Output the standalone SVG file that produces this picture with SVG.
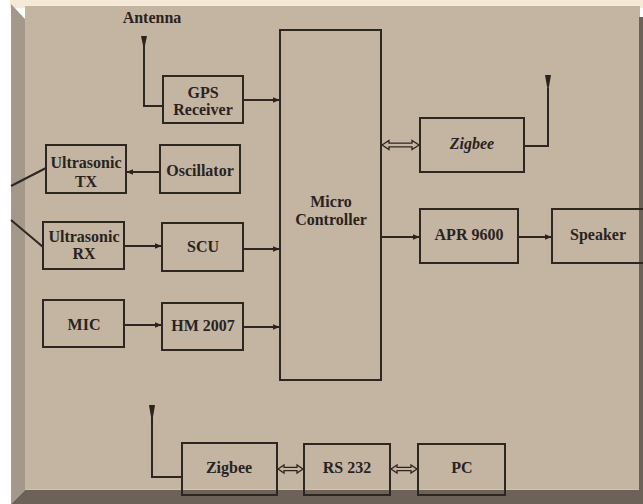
<svg xmlns="http://www.w3.org/2000/svg" width="643" height="504" viewBox="0 0 643 504">
<style>
.box{fill:none;stroke:#2e2620;stroke-width:2}
.ln{fill:none;stroke:#2e2620;stroke-width:2}
.dbl{fill:#c4b5a2;stroke:#2e2620;stroke-width:1.3}
.t{font-family:"Liberation Serif","Times New Roman",serif;font-size:16px;font-weight:bold;fill:#2a231d;text-anchor:middle}
.ant{fill:#2a231d}
</style>
<defs>
<marker id="ah" viewBox="0 0 10 10" refX="9" refY="5" markerWidth="7" markerHeight="7" markerUnits="userSpaceOnUse" orient="auto">
<path d="M0,1 L10,5 L0,9 Z" fill="#2a231d"/>
</marker>
</defs>
<g id="background">
<rect x="0" y="0" width="643" height="504" fill="#ffffff"/>
<rect x="10" y="0" width="633" height="8" fill="#f4ead7"/>
<rect x="25" y="6" width="615" height="484" fill="#c4b5a2"/>
<polygon points="11,4 25,19 25,490 11,504" fill="#a4988a"/>
<polygon points="11,504 25,490 643,490 643,504" fill="#6c6258"/>
<rect x="639" y="17" width="4" height="473" fill="#6c6258"/>
<line x1="25" y1="489.5" x2="639" y2="489.5" stroke="#d0c3b2" stroke-width="1"/>
</g>
<g id="connectors">
<!-- GPS antenna -->
<polygon class="ant" points="141,36 147,36 144,50"/>
<polyline class="ln" points="144,40 144,106 163,106"/>
<line class="ln" x1="243" y1="100" x2="279" y2="100" marker-end="url(#ah)"/>
<line class="ln" x1="160" y1="172" x2="127" y2="172" marker-end="url(#ah)"/>
<line class="ln" x1="46" y1="168" x2="11" y2="186"/>
<line class="ln" x1="43" y1="247" x2="11" y2="220"/>
<line class="ln" x1="124" y1="246" x2="161" y2="246" marker-end="url(#ah)"/>
<line class="ln" x1="243" y1="249" x2="279" y2="249" marker-end="url(#ah)"/>
<line class="ln" x1="124" y1="325" x2="161" y2="325" marker-end="url(#ah)"/>
<line class="ln" x1="243" y1="327" x2="279" y2="327" marker-end="url(#ah)"/>
<line class="ln" x1="381" y1="237" x2="419" y2="237" marker-end="url(#ah)"/>
<line class="ln" x1="518" y1="237" x2="551" y2="237" marker-end="url(#ah)"/>
<path class="dbl" d="M382,145 L389,140.5 L389,143.2 L412,143.2 L412,140.5 L419,145 L412,149.5 L412,146.8 L389,146.8 L389,149.5 Z"/>
<polyline class="ln" points="524,146 548,146 548,88"/>
<polygon class="ant" points="545,75 551,75 548,92"/>
<polygon class="ant" points="149,405 155,405 152,423"/>
<polyline class="ln" points="152,410 152,477 182,477"/>
<path class="dbl" d="M278,469 L284,465 L284,467.4 L297,467.4 L297,465 L303,469 L297,473 L297,470.6 L284,470.6 L284,473 Z"/>
<path class="dbl" d="M391,469 L397,465 L397,467.4 L411,467.4 L411,465 L417,469 L411,473 L411,470.6 L397,470.6 L397,473 Z"/>
</g>
<text class="t" x="152" y="23">Antenna</text>
<g id="mc">
<rect class="box" x="280" y="30" width="101" height="350"/>
<text class="t" x="331" y="207">Micro</text>
<text class="t" x="331" y="225">Controller</text>
</g>
<g id="gps">
<rect class="box" x="163" y="76" width="80" height="47"/>
<text class="t" x="203" y="98">GPS</text>
<text class="t" x="203" y="115">Receiver</text>
</g>
<g id="ultrasonic-tx">
<rect class="box" x="46" y="145" width="80" height="48"/>
<text class="t" x="86" y="168">Ultrasonic</text>
<text class="t" x="86" y="187">TX</text>
</g>
<g id="oscillator">
<rect class="box" x="160" y="145" width="80" height="48"/>
<text class="t" x="200" y="176">Oscillator</text>
</g>
<g id="ultrasonic-rx">
<rect class="box" x="43" y="222" width="81" height="47"/>
<text class="t" x="84" y="242">Ultrasonic</text>
<text class="t" x="84" y="259">RX</text>
</g>
<g id="scu">
<rect class="box" x="162" y="223" width="81" height="48"/>
<text class="t" x="203" y="252">SCU</text>
</g>
<g id="mic">
<rect class="box" x="43" y="300" width="81" height="47"/>
<text class="t" x="84" y="330">MIC</text>
</g>
<g id="hm2007">
<rect class="box" x="162" y="303" width="81" height="47"/>
<text class="t" x="203" y="331">HM 2007</text>
</g>
<g id="zigbee-top">
<rect class="box" x="420" y="118" width="104" height="54"/>
<text class="t" x="472" y="149" font-style="italic">Zigbee</text>
</g>
<g id="apr9600">
<rect class="box" x="420" y="209" width="98" height="54"/>
<text class="t" x="469" y="240">APR 9600</text>
</g>
<g id="speaker">
<rect class="box" x="552" y="209" width="92" height="54"/>
<text class="t" x="598" y="240">Speaker</text>
</g>
<g id="zigbee-bottom">
<rect class="box" x="182" y="443" width="95" height="52"/>
<text class="t" x="229" y="473">Zigbee</text>
</g>
<g id="rs232">
<rect class="box" x="304" y="444" width="86" height="51"/>
<text class="t" x="347" y="473">RS 232</text>
</g>
<g id="pc">
<rect class="box" x="418" y="444" width="87" height="51"/>
<text class="t" x="462" y="473">PC</text>
</g>
</svg>
